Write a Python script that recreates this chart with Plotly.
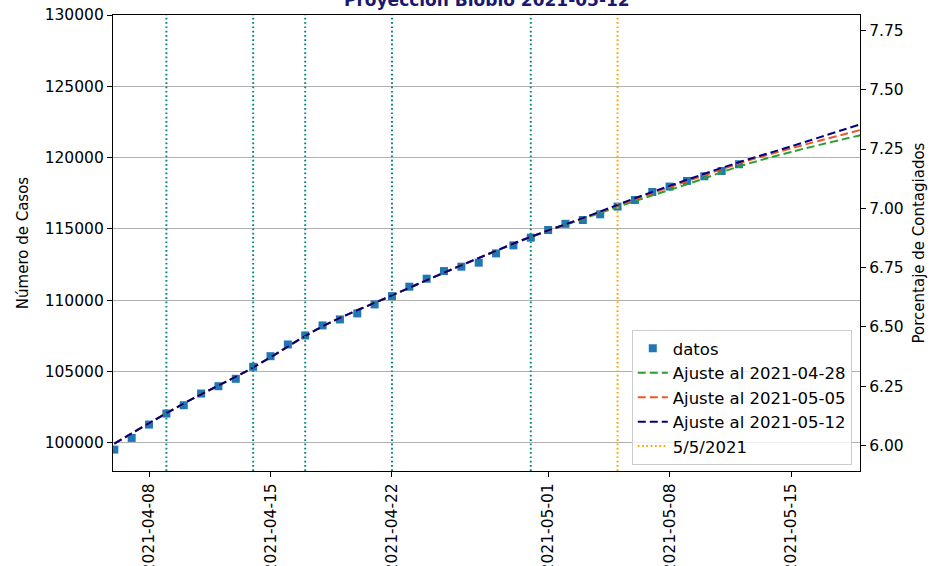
import pandas as pd
import plotly.graph_objects as go

# ---------------- data ----------------
fechas_datos = pd.date_range("2021-04-06", "2021-05-12", freq="D")
casos = [99530, 100350, 101285, 102057, 102640, 103461, 103973, 104493, 105335, 106079,
         106901, 107532, 108235, 108656, 109077, 109709, 110291, 110951, 111513, 112046,
         112355, 112636, 113289, 113850, 114391, 114925, 115360, 115627, 116027, 116567,
         117031, 117592, 117971, 118364, 118694, 119066, 119537]

fechas_ajuste = ["2021-04-06", "2021-04-10", "2021-04-14", "2021-04-18", "2021-04-22",
                 "2021-04-26", "2021-04-30", "2021-05-03", "2021-05-06", "2021-05-09",
                 "2021-05-12", "2021-05-15", "2021-05-19"]
ajuste_0428 = [99950, 102760, 105290, 108170, 110340, 112450, 114420, 115700, 116950,
               118130, 119380, 120400, 121570]
ajuste_0505 = [99950, 102760, 105290, 108170, 110340, 112450, 114450, 115750, 117080,
               118340, 119590, 120650, 121940]
ajuste_0512 = [99950, 102760, 105290, 108170, 110340, 112450, 114450, 115760, 117150,
               118450, 119680, 120790, 122345]

lineas_teal = ["2021-04-09", "2021-04-14", "2021-04-17", "2021-04-22", "2021-04-30"]
linea_naranja = "2021-05-05"

poblacion = 1663500
rango_casos = [98030, 130000]
x_rango = ["2021-04-05 22:10", "2021-05-18 23:20"]

ticks_x = ["2021-04-08", "2021-04-15", "2021-04-22", "2021-05-01", "2021-05-08", "2021-05-15"]
ticks_y = [100000, 105000, 110000, 115000, 120000, 125000, 130000]
ticks_y2 = [6.00, 6.25, 6.50, 6.75, 7.00, 7.25, 7.50, 7.75]

titulo = "Proyección Biobío 2021-05-12"

# ---------------- figure ----------------
FONT = "DejaVu Sans"
fig = go.Figure()

fig.add_trace(go.Scatter(
    x=fechas_datos, y=casos, mode="markers", name="datos",
    marker=dict(symbol="square", size=8, color="#1f77b4"),
    legendgroup="a"))

dash_fit = "8px,4px"
for nombre, vals, col, g in [("Ajuste al 2021-04-28", ajuste_0428, "#2ca02c", "b"),
                              ("Ajuste al 2021-05-05", ajuste_0505, "#f05522", "c"),
                              ("Ajuste al 2021-05-12", ajuste_0512, "#000080", "d")]:
    fig.add_trace(go.Scatter(
        x=fechas_ajuste, y=vals, mode="lines", name=nombre, legendgroup=g,
        line=dict(color=col, width=2, dash=dash_fit, shape="spline")))

dot = "1.7px,2.6px"
for d in lineas_teal:
    fig.add_trace(go.Scatter(
        x=[d, d], y=rango_casos, mode="lines", showlegend=False, hoverinfo="skip",
        line=dict(color="#078c7c", width=2, dash=dot)))

fig.add_trace(go.Scatter(
    x=[linea_naranja, linea_naranja], y=rango_casos, mode="lines", name="5/5/2021",
    legendgroup="e", line=dict(color="#ffa500", width=2, dash=dot)))

# invisible trace for right axis (percentage)
fig.add_trace(go.Scatter(
    x=fechas_datos, y=[c / poblacion * 100 for c in casos], yaxis="y2",
    mode="markers", marker=dict(opacity=0), showlegend=False, hoverinfo="skip"))

fig.add_annotation(
    text="<b>" + titulo + "</b>", xref="paper", yref="paper", x=0.5, y=1.007,
    xanchor="center", yanchor="bottom", showarrow=False,
    font=dict(family=FONT, size=17, color="#191970"))

tickfont = dict(family=FONT, size=15.5, color="#000000")
fig.update_layout(
    width=932, height=566,
    margin=dict(l=113, r=72, t=15, b=95, autoexpand=False),
    paper_bgcolor="white", plot_bgcolor="white",
    font=dict(family=FONT, color="#000000"),
    showlegend=True,
    legend=dict(
        x=0.989, y=0.013, xanchor="right", yanchor="bottom",
        bgcolor="rgba(255,255,255,0.8)", bordercolor="#cccccc", borderwidth=1,
        font=dict(family=FONT, size=16.5, color="#000000"),
        tracegroupgap=0, itemwidth=30),
    xaxis=dict(
        type="date", range=x_rango, tickvals=ticks_x, ticktext=ticks_x,
        tickangle=-90, tickfont=tickfont, ticks="outside", ticklen=5,
        tickcolor="#000000", showline=True, linecolor="#000000", linewidth=1.2,
        mirror=True, showgrid=False, zeroline=False, automargin=False),
    yaxis=dict(
        range=rango_casos, tickvals=ticks_y, tickformat="d", tickfont=tickfont,
        ticks="outside", ticklen=5, tickcolor="#000000", showline=True,
        linecolor="#000000", linewidth=1.2, showgrid=True, gridcolor="#b0b0b0",
        gridwidth=1, zeroline=False, automargin=False,
        title=dict(text="Número de Casos", font=dict(family=FONT, size=15), standoff=12)),
    yaxis2=dict(
        overlaying="y", side="right",
        range=[rango_casos[0] / poblacion * 100, rango_casos[1] / poblacion * 100],
        tickvals=ticks_y2, tickformat=".2f", tickfont=tickfont, ticks="outside",
        ticklen=5, tickcolor="#000000", showline=True, linecolor="#000000",
        linewidth=1.2, showgrid=False, zeroline=False, automargin=False,
        title=dict(text="Porcentaje de Contagiados", font=dict(family=FONT, size=15),
                   standoff=10)),
)

fig.write_html("out.html", config={"displayModeBar": False},
               post_script="document.body.style.margin='0px';")
